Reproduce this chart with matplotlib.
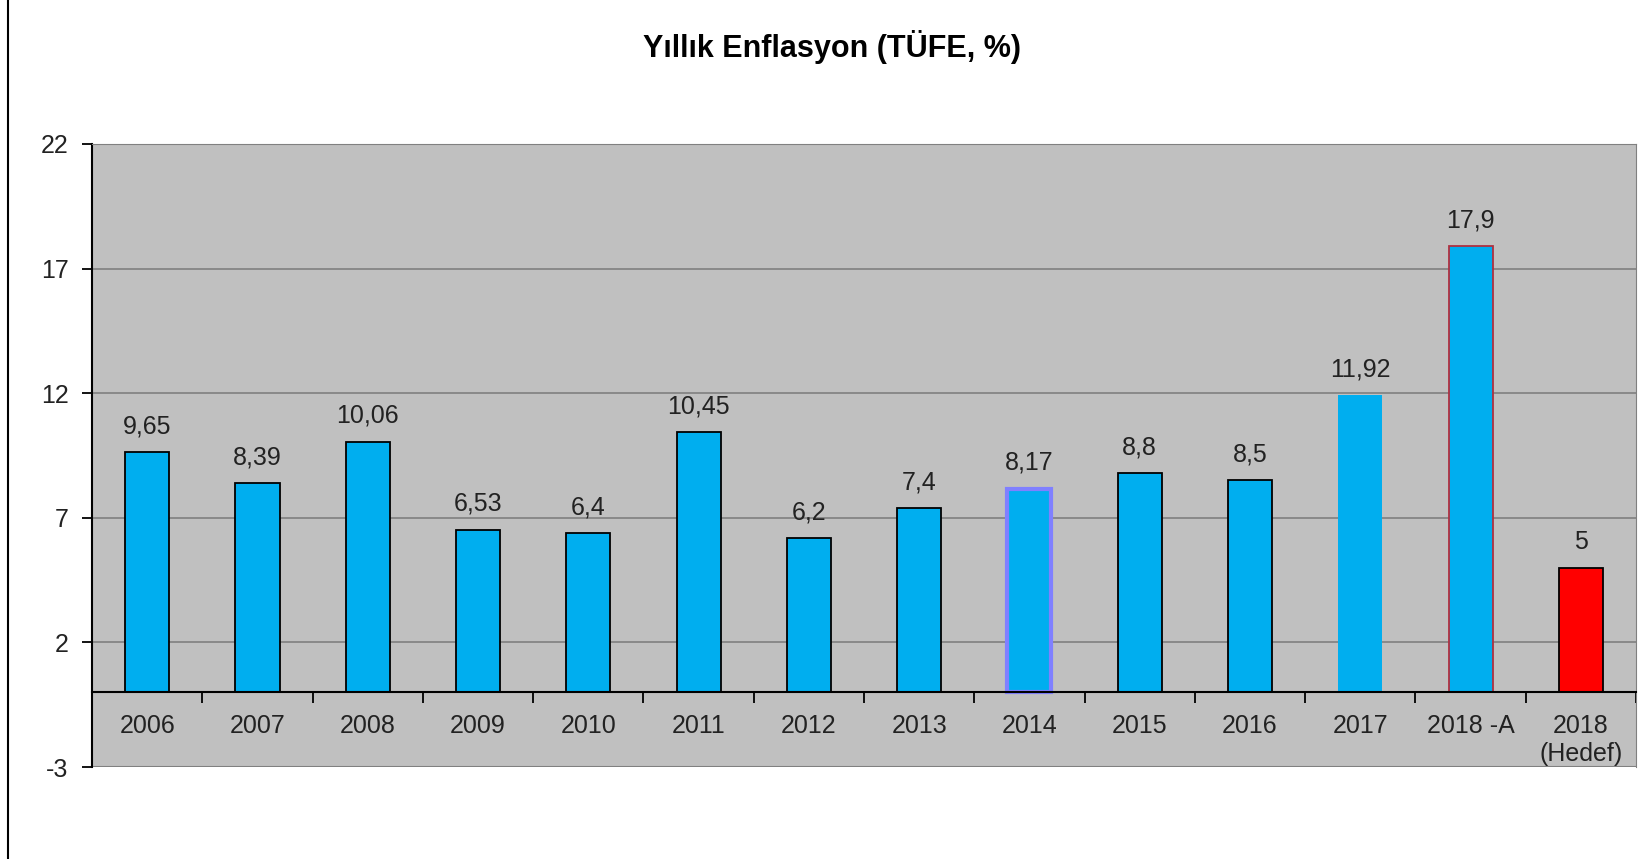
import matplotlib
matplotlib.use("Agg")
import matplotlib.pyplot as plt
from matplotlib.lines import Line2D

categories = ["2006", "2007", "2008", "2009", "2010", "2011", "2012", "2013",
              "2014", "2015", "2016", "2017", "2018 -A", "2018\n(Hedef)"]
values = [9.65, 8.39, 10.06, 6.53, 6.4, 10.45, 6.2, 7.4, 8.17, 8.8, 8.5, 11.92, 17.9, 5]
labels = ["9,65", "8,39", "10,06", "6,53", "6,4", "10,45", "6,2", "7,4", "8,17",
          "8,8", "8,5", "11,92", "17,9", "5"]
y_ticks = [-3, 2, 7, 12, 17, 22]
title = "Yıllık Enflasyon (TÜFE, %)"

plt.rcParams['font.family'] = ['Liberation Sans', 'DejaVu Sans']

fig = plt.figure(figsize=(16.5, 8.59), dpi=100)
ax = fig.add_axes([0.0558, 0.1071, 0.9357, 0.7253])
ax.set_facecolor('#C0C0C0')

blue = '#00AEEF'
faces = [blue] * 13 + ['#FF0000']
edges = ['black'] * 14
lws = [1.3] * 14
edges[8] = '#8080FF'; lws[8] = 3.0
edges[11] = blue; lws[11] = 0.0
edges[12] = '#B03040'; lws[12] = 1.3

x = list(range(len(categories)))
bars = ax.bar(x, values, width=0.40, color=faces, edgecolor=edges, linewidth=lws, zorder=3)

for xi, v, lab in zip(x, values, labels):
    ax.annotate(lab, (xi, v), xytext=(0, 18.5), textcoords='offset points',
                ha='center', va='center', fontsize=18, color='#222222')

ax.set_ylim(-3, 22)
ax.set_xlim(-0.5, len(categories) - 0.5)
ax.set_yticks(y_ticks)
ax.set_yticklabels([str(t) for t in y_ticks])
ax.yaxis.grid(True, color='#808080', linewidth=1.2, zorder=0)
ax.set_axisbelow(True)

ax.set_xticks(x)
ax.set_xticks([i + 0.5 for i in range(len(categories))], minor=True)
ax.set_xticklabels(categories, linespacing=1.0)
ax.tick_params(axis='x', which='major', length=0, pad=16, labelsize=18, labelcolor='#222222')
ax.tick_params(axis='x', which='minor', length=8, width=1.3, direction='out', color='black')
ax.tick_params(axis='y', length=7, width=1.3, pad=10, color='black', labelsize=18, labelcolor='#222222')

ax.spines['bottom'].set_position(('data', 0))
ax.spines['bottom'].set_linewidth(1.5)
ax.spines['bottom'].set_zorder(4)
ax.spines['left'].set_linewidth(1.5)
ax.spines['top'].set_color('#808080')
ax.spines['right'].set_color('#808080')
ax.axhline(-3, color='#808080', linewidth=1.5, zorder=1)

fig.text(0.504, 0.945, title, ha='center', va='center', fontsize=22, fontweight='bold', color='black')

fig.add_artist(Line2D([8 / 1650, 8 / 1650], [0, 1], transform=fig.transFigure, color='black', linewidth=1.5))

fig.savefig('out.png', dpi=100, facecolor='white')
